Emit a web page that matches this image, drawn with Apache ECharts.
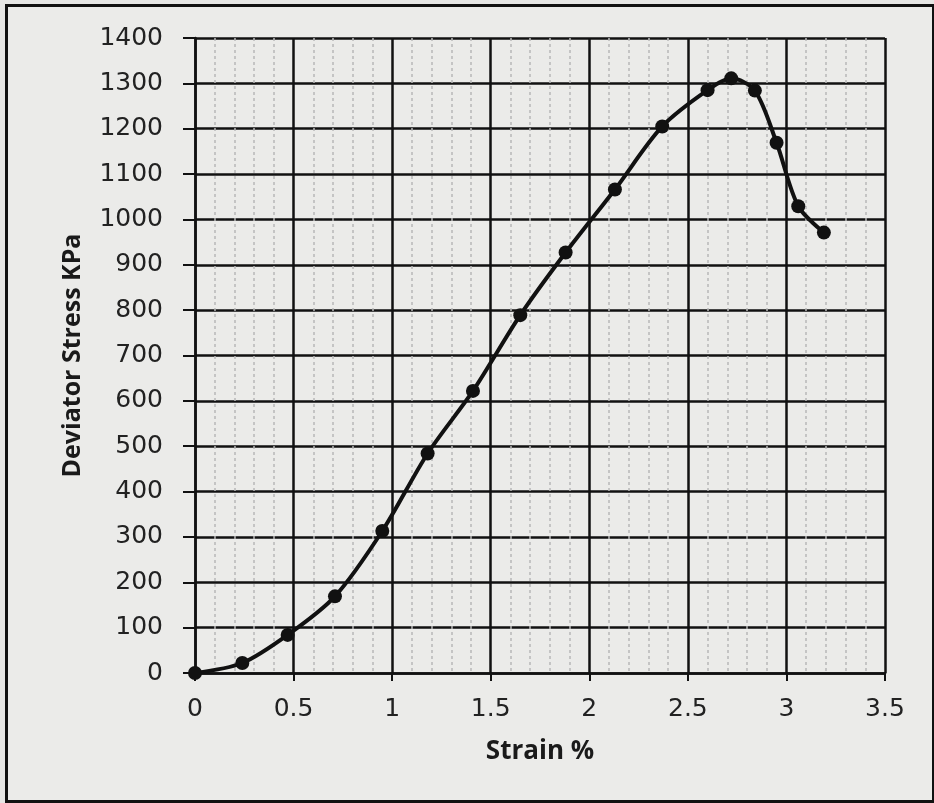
<!DOCTYPE html>
<html>
<head>
<meta charset="utf-8">
<script src="https://cdn.jsdelivr.net/npm/echarts@6/dist/echarts.min.js"></script>
<style>
  html, body { margin: 0; padding: 0; background: #e6e6e4; }
  #frame {
    position: absolute; left: 5px; top: 4px; width: 924px; height: 793px;
    border: 3px solid #111;
    background: #ebebe9;
  }
  #chart { position: absolute; left: 0; top: 0; width: 934px; height: 803px; }
</style>
</head>
<body>
<div id="frame"></div>
<div id="chart"></div>
<script>
const strain = [0, 0.24, 0.47, 0.71, 0.95, 1.18, 1.41, 1.65, 1.88, 2.13, 2.37, 2.6, 2.72, 2.84, 2.95, 3.06, 3.19];
const stress = [0, 22, 84, 169, 313, 484, 622, 789, 927, 1066, 1205, 1285, 1311, 1284, 1169, 1029, 971];

const chart = echarts.init(document.getElementById('chart'));

const tickFont = {
  color: '#222',
  fontFamily: 'DejaVu Sans',
  fontSize: 25,
};

const titleFont = {
  color: '#1a1a1a',
  fontFamily: 'Open Sans',
  fontSize: 25,
  fontWeight: 'bold',
};

chart.setOption({
  backgroundColor: 'transparent',
  animation: false,
  grid: { left: 195, right: 49, top: 38, bottom: 130 },
  xAxis: {
    type: 'value',
    min: 0,
    max: 3.5,
    interval: 0.5,
    name: 'Strain %',
    nameLocation: 'middle',
    nameGap: 66,
    nameTextStyle: { ...titleFont, fontSize: 26 },
    axisLine: { show: true, lineStyle: { color: '#111', width: 2.5 } },
    axisTick: { show: true, length: 8, lineStyle: { color: '#111', width: 2 } },
    axisLabel: { ...tickFont, margin: 24, formatter: (v) => String(v) },
    splitLine: { show: true, lineStyle: { color: '#111', width: 2.5 } },
    minorTick: { show: false, splitNumber: 5 },
    minorSplitLine: { show: true, lineStyle: { color: '#b8b8b8', width: 1.5, type: [3, 3] } },
  },
  yAxis: {
    type: 'value',
    min: 0,
    max: 1400,
    interval: 100,
    name: 'Deviator Stress KPa',
    nameLocation: 'middle',
    nameGap: 110,
    nameTextStyle: titleFont,
    axisLine: { show: true, lineStyle: { color: '#111', width: 2.5 } },
    axisTick: { show: true, length: 12, lineStyle: { color: '#111', width: 2 } },
    axisLabel: { ...tickFont, margin: 32, formatter: (v) => String(v) },
    splitLine: { show: true, lineStyle: { color: '#111', width: 2.5 } },
  },
  series: [
    {
      type: 'line',
      data: strain.map((x, i) => [x, stress[i]]),
      smooth: 0.3,
      symbol: 'circle',
      symbolSize: 14,
      lineStyle: { color: '#111', width: 4 },
      itemStyle: { color: '#111' },
    },
  ],
});
</script>
</body>
</html>
